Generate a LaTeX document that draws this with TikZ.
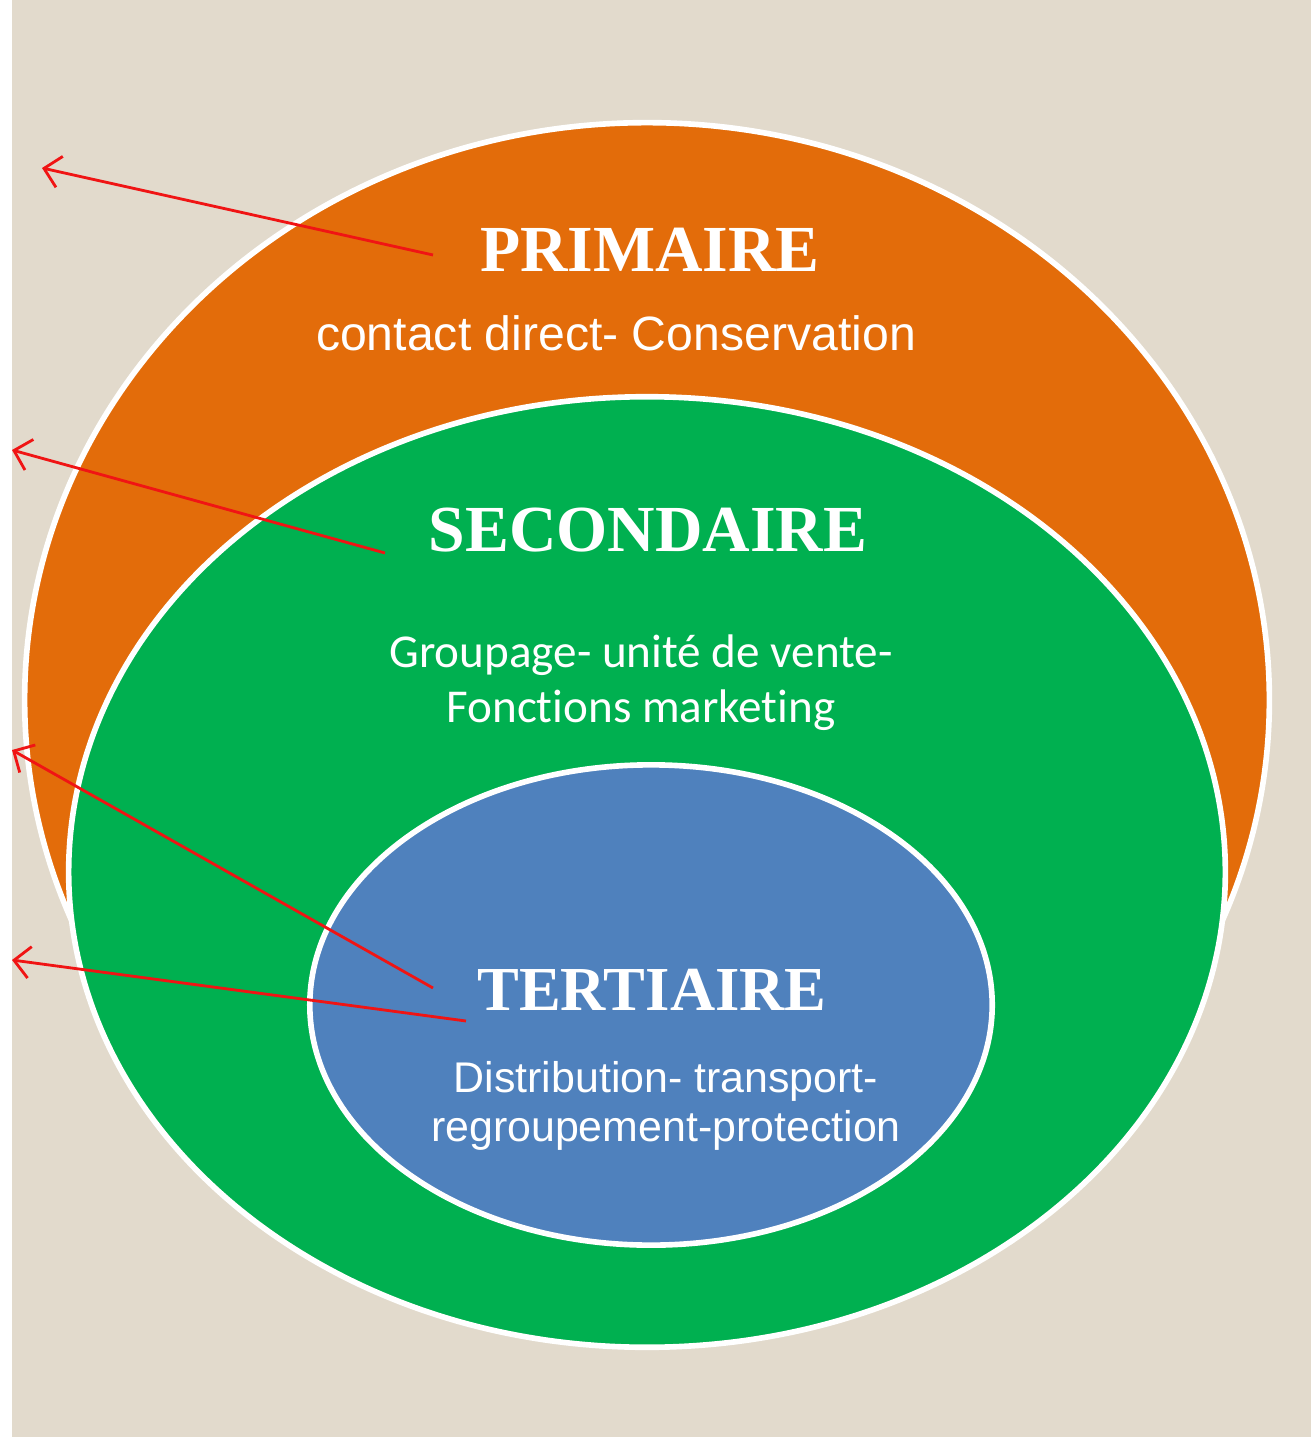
\documentclass[tikz,border=0pt]{standalone}
\usepackage{fontspec}
\setmainfont{Liberation Serif}
\newfontfamily\arialfont{Liberation Sans}
\newfontfamily\calibrifont[Ligatures=NoCommon]{Carlito}
\usetikzlibrary{shapes.geometric,arrows.meta}

\definecolor{paper}{RGB}{226,218,204}
\definecolor{couchea}{RGB}{227,108,10}
\definecolor{coucheb}{RGB}{0,176,80}
\definecolor{couchec}{RGB}{79,129,189}
\definecolor{fleche}{RGB}{240,20,20}

\tikzset{
  couche/.style={ellipse,draw=white,line width=1.6pt,inner sep=0pt},
  titre/.style={text=white,font=\fontsize{18.7}{20}\selectfont\bfseries},
  renvoi/.style={draw=fleche,line width=0.8pt,-{Straight Barb[length=4.5pt,width=9pt]}}
}

\begin{document}
\begin{tikzpicture}[x=0.01cm,y=-0.01cm]
% page: white strip on the left, paper background
\fill[white] (0,0) rectangle (1311,1440);
\fill[paper] (12,0) rectangle (1311,1437);
\useasboundingbox (0,0) rectangle (1311,1440);

% three nested layers
\node[couche,fill=couchea,minimum width=12.44cm,minimum height=11.54cm] (prim) at (647,700) {};
\node[couche,fill=coucheb,minimum width=11.56cm,minimum height=9.50cm] (sec) at (647,872) {};
\node[couche,fill=couchec,minimum width=6.82cm,minimum height=4.80cm] (ter) at (651,1005) {};

% labels of the primary layer
\node[titre] (primtitre) at (650,250) {PRIMAIRE};
\node[text=white,font=\arialfont\fontsize{13.7}{16}\selectfont] (primtexte) at (616,333) {contact direct- Conservation};

% labels of the secondary layer
\node[titre] (sectitre) at (648,530) {SECONDAIRE};
\node[text=white,align=center,font=\calibrifont\fontsize{13.4}{15.6}\selectfont] (sectexte) at (641,683) {Groupage- unité de vente-\\Fonctions marketing};

% labels of the tertiary layer
\node[titre,font=\fontsize{17.8}{20}\selectfont\bfseries] (tertitre) at (652,990) {TERTIAIRE};
\node[text=white,align=center,font=\arialfont\fontsize{12.2}{13.9}\selectfont] (tertexte) at (666,1106) {Distribution- transport-\\regroupement-protection};

% red arrows going out to the left margin
\coordinate (da) at (433,255);  \coordinate (fa) at (42,168);
\coordinate (db) at (385,553);  \coordinate (fb) at (12,450);
\coordinate (dc) at (433,988);  \coordinate (fc) at (12,750);
\coordinate (dd) at (466,1021); \coordinate (fd) at (12,960);
\draw[renvoi] (da) -- (fa);
\draw[renvoi] (db) -- (fb);
\draw[renvoi] (dc) -- (fc);
\draw[renvoi] (dd) -- (fd);

\end{tikzpicture}
\end{document}
